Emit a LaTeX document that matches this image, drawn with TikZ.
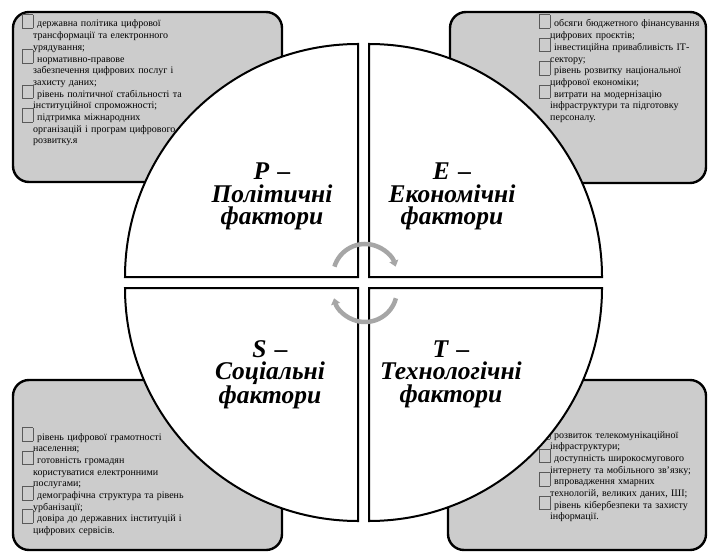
\documentclass[tikz,border=0pt]{standalone}
\usepackage{fontspec}
\setmainfont{Liberation Serif}
\usetikzlibrary{arrows.meta}
% порожній квадратик перед пунктом
\newcommand\chk{\leavevmode\llap{\smash{\raisebox{-1pt}{\color{black!65}\setlength\fboxsep{0pt}\setlength\fboxrule{0.6pt}\fbox{\rule{0pt}{13pt}\rule{10pt}{0pt}}}}}\hspace*{4pt}}
\begin{document}
\begin{tikzpicture}[x=1pt,y=1pt,
    panel/.style={fill=black!20, draw=black, line width=2.4pt, rounded corners=16pt},
    items/.style={anchor=base west, inner sep=0pt, text width=250pt, align=left, font=\fontsize{10}{11.7}\selectfont},
    sector/.style={fill=white, draw=black, line width=2pt},
    factor/.style={anchor=base, text width=170pt, align=center, inner sep=0pt, font=\fontsize{25.5}{22.5}\selectfont\bfseries\itshape},
    turn/.style={draw=black!35, line width=4.5pt, -{Triangle[width=9pt,length=6pt]}}]
    \useasboundingbox (0,0) rectangle (708,552);
    % Панелі з чинниками
    \draw[panel] (13,370) rectangle (282,540);
    \draw[panel] (450,369) rectangle (706,540);
    \draw[panel] (13,2) rectangle (282,172);
    \draw[panel] (448,2) rectangle (706,172);
    \node[items] (polit) at (33,525) {\chk державна політика цифрової\\трансформації та електронного\\урядування;\\\chk нормативно-правове\\забезпечення цифрових послуг і\\захисту даних;\\\chk рівень політичної стабільності та\\інституційної спроможності;\\\chk підтримка міжнародних\\організацій і програм цифрового\\розвитку.я};
    \node[items] (econ) at (550,525) {\chk обсяги бюджетного фінансування\\цифрових проєктів;\\\chk інвестиційна привабливість ІТ-\\сектору;\\\chk рівень розвитку національної\\цифрової економіки;\\\chk витрати на модернізацію\\інфраструктури та підготовку\\персоналу.};
    \node[items] (soc) at (33,112) {\chk рівень цифрової грамотності\\населення;\\\chk готовність громадян\\користуватися електронними\\послугами;\\\chk демографічна структура та рівень\\урбанізації;\\\chk довіра до державних інституцій і\\цифрових сервісів.};
    \node[items] (tech) at (550,114) {\chk розвиток телекомунікаційної\\інфраструктури;\\\chk доступність широкосмугового\\інтернету та мобільного зв’язку;\\\chk впровадження хмарних\\технологій, великих даних, ШІ;\\\chk рівень кібербезпеки та захисту\\інформації.};
    % Чотири сектори кола
    \draw[sector] (358,275) -- ++(-233,0) arc[start angle=180, end angle=90, radius=233] -- cycle;
    \draw[sector] (369,275) -- ++(0,233) arc[start angle=90, end angle=0, radius=233] -- cycle;
    \draw[sector] (358,264) -- ++(-233,0) arc[start angle=180, end angle=270, radius=233] -- cycle;
    \draw[sector] (369,264) -- ++(0,-233) arc[start angle=270, end angle=360, radius=233] -- cycle;
    \node[factor] (p) at (272,372) {\textit{P} –\\Політичні\\фактори};
    \node[factor] (e) at (452,372) {\textit{E} –\\Економічні\\фактори};
    \node[factor] (s) at (270,195) {\textit{S} –\\Соціальні\\фактори};
    \node[factor] (t) at (451,195) {\textit{T} –\\Технологічні\\фактори};
    % Стрілки циклу
    \draw[turn] ([shift={(163:32)}]365,276) arc[start angle=163, end angle=17, radius=32];
    \draw[turn] ([shift={(-15:32)}]365,262) arc[start angle=-15, end angle=-165, radius=32];
\end{tikzpicture}
\end{document}
